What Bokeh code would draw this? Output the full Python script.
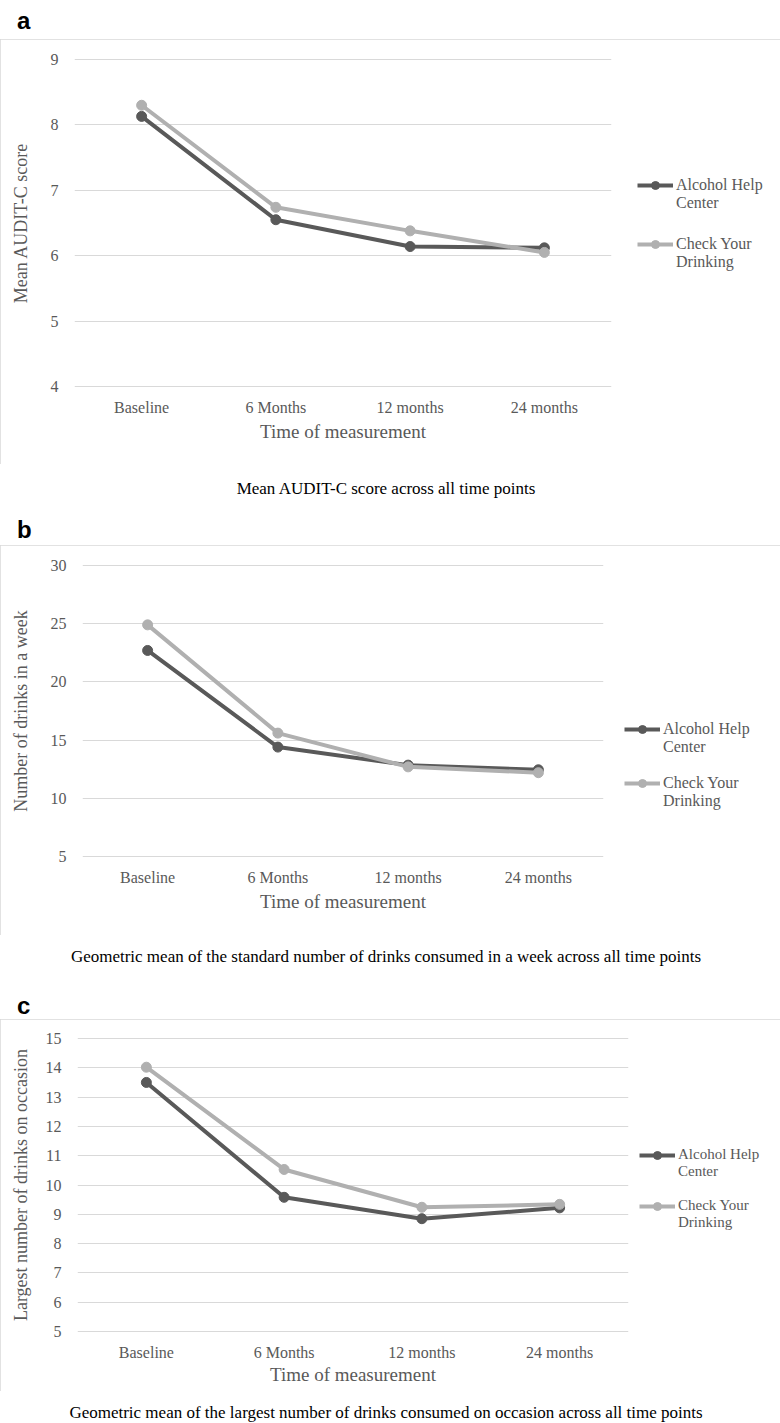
from bokeh.plotting import figure
from bokeh.models import (FactorRange, Range1d, FixedTicker, Legend, LegendItem,
                          ColumnDataSource, Div)
from bokeh.layouts import column
from bokeh.embed import file_html
from bokeh.resources import INLINE

# ---------------- data ----------------
categories = ["Baseline", "6 Months", "12 months", "24 months"]
# leading blank line keeps the legend glyph level with the first text line
legend_labels = ["\nAlcohol Help\nCenter", "\nCheck Your\nDrinking"]

audit_ahc = [8.13, 6.55, 6.14, 6.12]
audit_cyd = [8.30, 6.74, 6.38, 6.05]
audit_ticks = [4, 5, 6, 7, 8, 9]

week_ahc = [22.7, 14.4, 12.85, 12.45]
week_cyd = [24.9, 15.6, 12.7, 12.2]
week_ticks = [5, 10, 15, 20, 25, 30]

occ_ahc = [13.5, 9.58, 8.85, 9.22]
occ_cyd = [14.02, 10.53, 9.24, 9.34]
occ_ticks = [5, 6, 7, 8, 9, 10, 11, 12, 13, 14, 15]

panel_letters = ["a", "b", "c"]
y_titles = ["Mean AUDIT-C score", "Number of drinks in a week",
            "Largest number of drinks on occasion"]
x_title = "Time of measurement"
captions = ["Mean AUDIT-C score across all time points",
            "Geometric mean of the standard number of drinks consumed in a week across all time points",
            "Geometric mean of the largest number of drinks consumed on occasion across all time points"]

DARK = "#595959"
LIGHT = "#b0b0b0"
GRID = "#d9d9d9"
TXT = "#595959"
SERIF = "Liberation Serif"


def make_panel(ytitle, ahc, cyd, ticks, cfg):
    W, H = cfg["W"], cfg["H"]
    fl, fw, ft, fh = cfg["fl"], cfg["fw"], cfg["ft"], cfg["fh"]
    pad = 1
    lo, hi = ticks[0], ticks[-1]
    d = pad * (hi - lo) / fh
    p = figure(x_range=FactorRange(*categories, range_padding=0),
               y_range=Range1d(lo - d, hi + d),
               frame_width=fw, frame_height=fh + 2 * pad,
               min_border_left=fl, min_border_right=W - fl - fw,
               min_border_top=ft - pad, min_border_bottom=H - ft - fh - pad,
               output_backend="svg", toolbar_location=None,
               styles={"outline": "1px solid #d9d9d9", "outline-offset": "-1px"})
    p.outline_line_color = None
    p.background_fill_color = "white"
    p.border_fill_color = "white"
    p.xgrid.grid_line_color = None
    p.ygrid.grid_line_color = GRID
    p.ygrid.grid_line_width = 1
    p.yaxis.ticker = FixedTicker(ticks=ticks)
    for ax in (p.xaxis[0], p.yaxis[0]):
        ax.axis_line_color = None
        ax.major_tick_line_color = None
        ax.minor_tick_line_color = None
        ax.major_tick_out = 0
        ax.major_tick_in = 0
        ax.major_label_text_font = SERIF
        ax.major_label_text_font_size = "16px"
        ax.major_label_text_color = TXT
        ax.axis_label_text_font = SERIF
        ax.axis_label_text_font_style = "normal"
        ax.axis_label_text_color = TXT
    p.yaxis.major_label_standoff = 16
    p.xaxis.major_label_standoff = 11
    p.yaxis.axis_label = ytitle
    p.yaxis.axis_label_text_font_size = "18px"
    p.yaxis.axis_label_standoff = cfg["ystand"]
    p.xaxis.axis_label = x_title
    p.xaxis.axis_label_text_font_size = "19px"
    p.xaxis.axis_label_standoff = cfg["xstand"]

    src1 = ColumnDataSource(dict(x=categories, y=ahc))
    src2 = ColumnDataSource(dict(x=categories, y=cyd))
    l1 = p.line("x", "y", source=src1, line_color=DARK, line_width=4)
    c1 = p.scatter("x", "y", source=src1, size=10, fill_color=DARK, line_color=DARK)
    l2 = p.line("x", "y", source=src2, line_color=LIGHT, line_width=4)
    c2 = p.scatter("x", "y", source=src2, size=10, fill_color=LIGHT, line_color=LIGHT)

    legend = Legend(items=[LegendItem(label=legend_labels[0], renderers=[l1, c1]),
                           LegendItem(label=legend_labels[1], renderers=[l2, c2])],
                    location=(cfg["leg_x"], cfg["leg_y"]),
                    orientation="vertical", padding=0, margin=0, spacing=cfg["leg_sp"],
                    glyph_width=36, glyph_height=20, label_height=20, label_standoff=3,
                    label_text_font=SERIF, label_text_font_size=cfg["leg_fs"],
                    label_text_color=TXT, border_line_color=None,
                    background_fill_alpha=0)
    p.add_layout(legend, "right")
    return p


def letter_div(letter, mt, height):
    html = ('<div style="margin:%dpx 0 0 17px;font-family:\'Liberation Sans\';font-weight:bold;'
            'font-size:24px;line-height:24px;color:#000">%s</div>' % (mt, letter))
    return Div(text=html, width=779, height=height, margin=(0, 0, 0, 0))


def caption_div(caption, mt, height):
    html = ('<div style="margin:%dpx 0 0 0;width:772px;text-align:center;'
            'font-family:\'Liberation Serif\';font-size:17px;line-height:18px;color:#000;'
            'white-space:nowrap">%s</div>' % (mt, caption))
    return Div(text=html, width=779, height=height, margin=(0, 0, 0, 0))


cfg_a = dict(W=779, H=425, fl=74, fw=537, ft=20, fh=327, ystand=17, xstand=2,
             leg_x=26, leg_y=116, leg_sp=5, leg_fs="16px")
cfg_b = dict(W=777, H=390, fl=82, fw=521, ft=20, fh=291, ystand=17, xstand=2,
             leg_x=21, leg_y=47, leg_sp=0, leg_fs="16px")
cfg_c = dict(W=774, H=372, fl=77, fw=551, ft=19, fh=293, ystand=12, xstand=0,
             leg_x=11, leg_y=101, leg_sp=0, leg_fs="15px")

pa = make_panel(y_titles[0], audit_ahc, audit_cyd, audit_ticks, cfg_a)
pb = make_panel(y_titles[1], week_ahc, week_cyd, week_ticks, cfg_b)
pc = make_panel(y_titles[2], occ_ahc, occ_cyd, occ_ticks, cfg_c)

panel_a = column(letter_div(panel_letters[0], 9, 39), pa,
                 caption_div(captions[0], 16, 41), spacing=0)
panel_b = column(letter_div(panel_letters[1], 13, 40), pb,
                 caption_div(captions[1], 13, 45), spacing=0)
panel_c = column(letter_div(panel_letters[2], 14, 39), pc,
                 caption_div(captions[2], 13, 30), spacing=0)

# each panel is its own root so that the three plot frames keep their own positions
open("out.html", "w").write(file_html([panel_a, panel_b, panel_c], INLINE))
